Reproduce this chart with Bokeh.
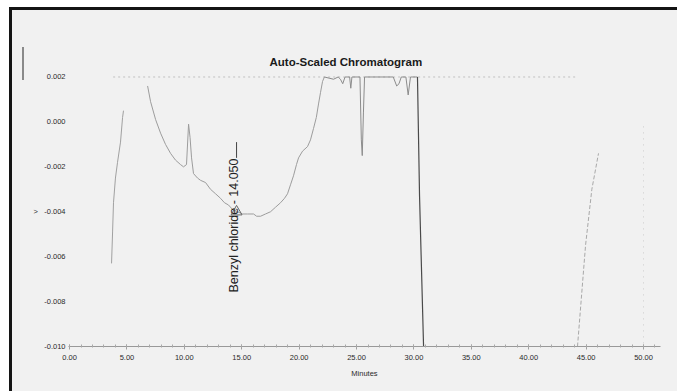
import math
from bokeh.plotting import figure
from bokeh.models import (Range1d, SingleIntervalTicker, FixedTicker, NumeralTickFormatter,
                          GlobalInlineStyleSheet)
from bokeh.core.properties import value
from bokeh.embed import file_html
from bokeh.resources import INLINE

# ---------------- data ----------------
TITLE = "Auto-Scaled Chromatogram"
X_LABEL = "Minutes"
x_ticks = [0, 5, 10, 15, 20, 25, 30, 35, 40, 45, 50]
y_ticks = [-0.010, -0.008, -0.006, -0.004, -0.002, 0.000, 0.002]

early_min = [3.66, 3.75, 3.83, 4.00, 4.18, 4.44, 4.62, 4.70]
early_au = [-0.0063, -0.0049, -0.0036, -0.0025, -0.0018, -0.0009, 0.0002, 0.0005]

bowl_min = [6.80, 7.06, 7.50, 7.93, 8.36, 8.80, 9.23, 9.67, 9.93, 10.19,
            10.37, 10.50, 10.63, 10.80, 11.15, 11.41, 11.85, 12.28, 12.72, 13.15,
            13.50, 13.85, 14.20, 14.63, 15.07, 15.51, 16.03, 16.30, 16.64, 17.07,
            17.51, 17.94, 18.38, 18.73, 18.99, 19.25, 19.51, 19.77, 19.95, 20.30,
            20.73, 20.99, 21.25, 21.50, 21.69, 21.86, 22.04, 22.20]
bowl_au = [0.0016, 0.0009, 0.0001, -0.0005, -0.0010, -0.0014, -0.0017, -0.0019, -0.0020, -0.0019,
           -0.0001, -0.0007, -0.0016, -0.0023, -0.0025, -0.0026, -0.0027, -0.0030, -0.0032, -0.0034,
           -0.0036, -0.0037, -0.0039, -0.0040, -0.0041, -0.0041, -0.0041, -0.0042, -0.0042, -0.0041,
           -0.0040, -0.0038, -0.0036, -0.0034, -0.0032, -0.0028, -0.0024, -0.0019, -0.0016, -0.0013,
           -0.0011, -0.0008, -0.0003, 0.0002, 0.0008, 0.0013, 0.0018, 0.0020]

top_min = [22.20, 23.00, 23.40, 23.60, 23.80, 24.00, 24.40, 24.50, 24.60, 25.30,
           25.42, 25.50, 25.60, 25.70, 28.20, 28.50, 28.70, 28.90, 29.30, 29.50,
           29.70, 30.31]
top_au = [0.0020, 0.0019, 0.0020, 0.0019, 0.0017, 0.0020, 0.0020, 0.0015, 0.0020, 0.0020,
          -0.0008, -0.0015, 0.0004, 0.0020, 0.0020, 0.0016, 0.0017, 0.0020, 0.0020, 0.0012,
          0.0020, 0.0020]

drop_min = [30.31, 30.49, 30.84]
drop_au = [0.0020, -0.0033, -0.0100]

late_min = [44.25, 44.95, 45.50, 46.08]
late_au = [-0.0100, -0.0055, -0.0030, -0.0014]

clip_min = [3.80, 44.20]
clip_au = [0.0020, 0.0020]

edge_min = [50.0, 50.0]
edge_au = [-0.0002, -0.0100]

peak_name = "Benzyl chloride"
peak_time = 14.050
peak_au = -0.0040

# ---------------- figure ----------------
FONT = "Liberation Sans"
BG = "#f1f1f1"
TXT = "#2a2a2a"
INK = "#141414"

p = figure(width=677, height=391, output_backend="svg", toolbar_location=None,
           x_range=Range1d(-0.09, 51.48), y_range=Range1d(-0.0100, 0.0022),
           min_border_left=68, min_border_right=17, min_border_top=72, min_border_bottom=45,
           background_fill_color=BG, border_fill_color=None, outline_line_color=None)
# scanned page look: white margin, black top/left rule, light grey paper, pen mark
p.styles = {"background": (
    f"linear-gradient({INK},{INK}) 9px 7px / 668px 3px no-repeat, "
    f"linear-gradient({INK},{INK}) 9px 7px / 3px 384px no-repeat, "
    "linear-gradient(#8a8a8a,#8a8a8a) 22px 47px / 2px 33px no-repeat, "
    f"linear-gradient({BG},{BG}) 12px 10px / 665px 381px no-repeat, #ffffff")}
p.stylesheets = [GlobalInlineStyleSheet(css="html, body { overflow: hidden; background: #ffffff; }")]

p.title.text = TITLE
p.title.text_font = FONT
p.title.text_font_size = "11.5px"
p.title.text_font_style = "bold"
p.title.text_color = "#1a1a1a"
p.title.align = "left"
p.title.offset = 201

p.xgrid.visible = False
p.ygrid.visible = False

xa = p.xaxis[0]
xa.ticker = SingleIntervalTicker(interval=5, num_minor_ticks=5)
xa.formatter = NumeralTickFormatter(format="0.00")
xa.axis_label = X_LABEL
xa.axis_label_text_font = FONT
xa.axis_label_text_font_size = "7.5px"
xa.axis_label_text_font_style = "normal"
xa.axis_label_text_color = TXT
xa.axis_label_standoff = 6
xa.major_label_text_font = FONT
xa.major_label_text_font_size = "7.5px"
xa.major_label_text_color = TXT
xa.major_label_standoff = 5
xa.axis_line_color = "#999999"
xa.major_tick_line_color = "#a0a0a0"
xa.minor_tick_line_color = "#a8a8a8"
xa.major_tick_in = 2
xa.major_tick_out = 3
xa.minor_tick_in = 2
xa.minor_tick_out = 1

ya = p.yaxis[0]
ya.ticker = FixedTicker(ticks=y_ticks, minor_ticks=[])
ya.formatter = NumeralTickFormatter(format="0.000")
ya.major_label_overrides = {-0.004: ">\u00a0\u00a0\u00a0-0.004"}
ya.major_label_text_font = FONT
ya.major_label_text_font_size = "7.5px"
ya.major_label_text_color = TXT
ya.major_label_standoff = -3
ya.axis_line_color = None
ya.major_tick_line_color = None
ya.minor_tick_line_color = None

# ---------------- traces ----------------
p.line(clip_min, clip_au, line_color="#c0c0c0", line_width=1, line_dash="2 3")
p.line(edge_min, edge_au, line_color="#cccccc", line_width=1, line_dash="1 5")
p.line(early_min, early_au, line_color="#a0a0a0", line_width=1)
p.line(bowl_min, bowl_au, line_color="#9c9c9c", line_width=1)
p.line(top_min, top_au, line_color="#8c8c8c", line_width=1)
p.line(drop_min, drop_au, line_color="#4a4a4a", line_width=1.2)
p.line(late_min, late_au, line_color="#a8a8a8", line_width=1, line_dash="4 2")

# ---------------- peak annotation ----------------
p.text(x=[peak_time + 0.32], y=[-0.0076], text=[f"{peak_name} - {peak_time:.3f}"],
       angle=math.pi / 2, text_align="left", text_baseline="middle",
       text_font=value(FONT), text_font_size="12.5px", text_color="#222222")
p.line([peak_time + 0.50, peak_time + 0.50], [-0.0016, -0.0009], line_color="#444444", line_width=1)
p.scatter([peak_time + 0.50], [peak_au], marker="triangle", size=11,
          fill_color=None, line_color="#666666", line_width=1)

open("out.html", "w").write(file_html(p, INLINE))
